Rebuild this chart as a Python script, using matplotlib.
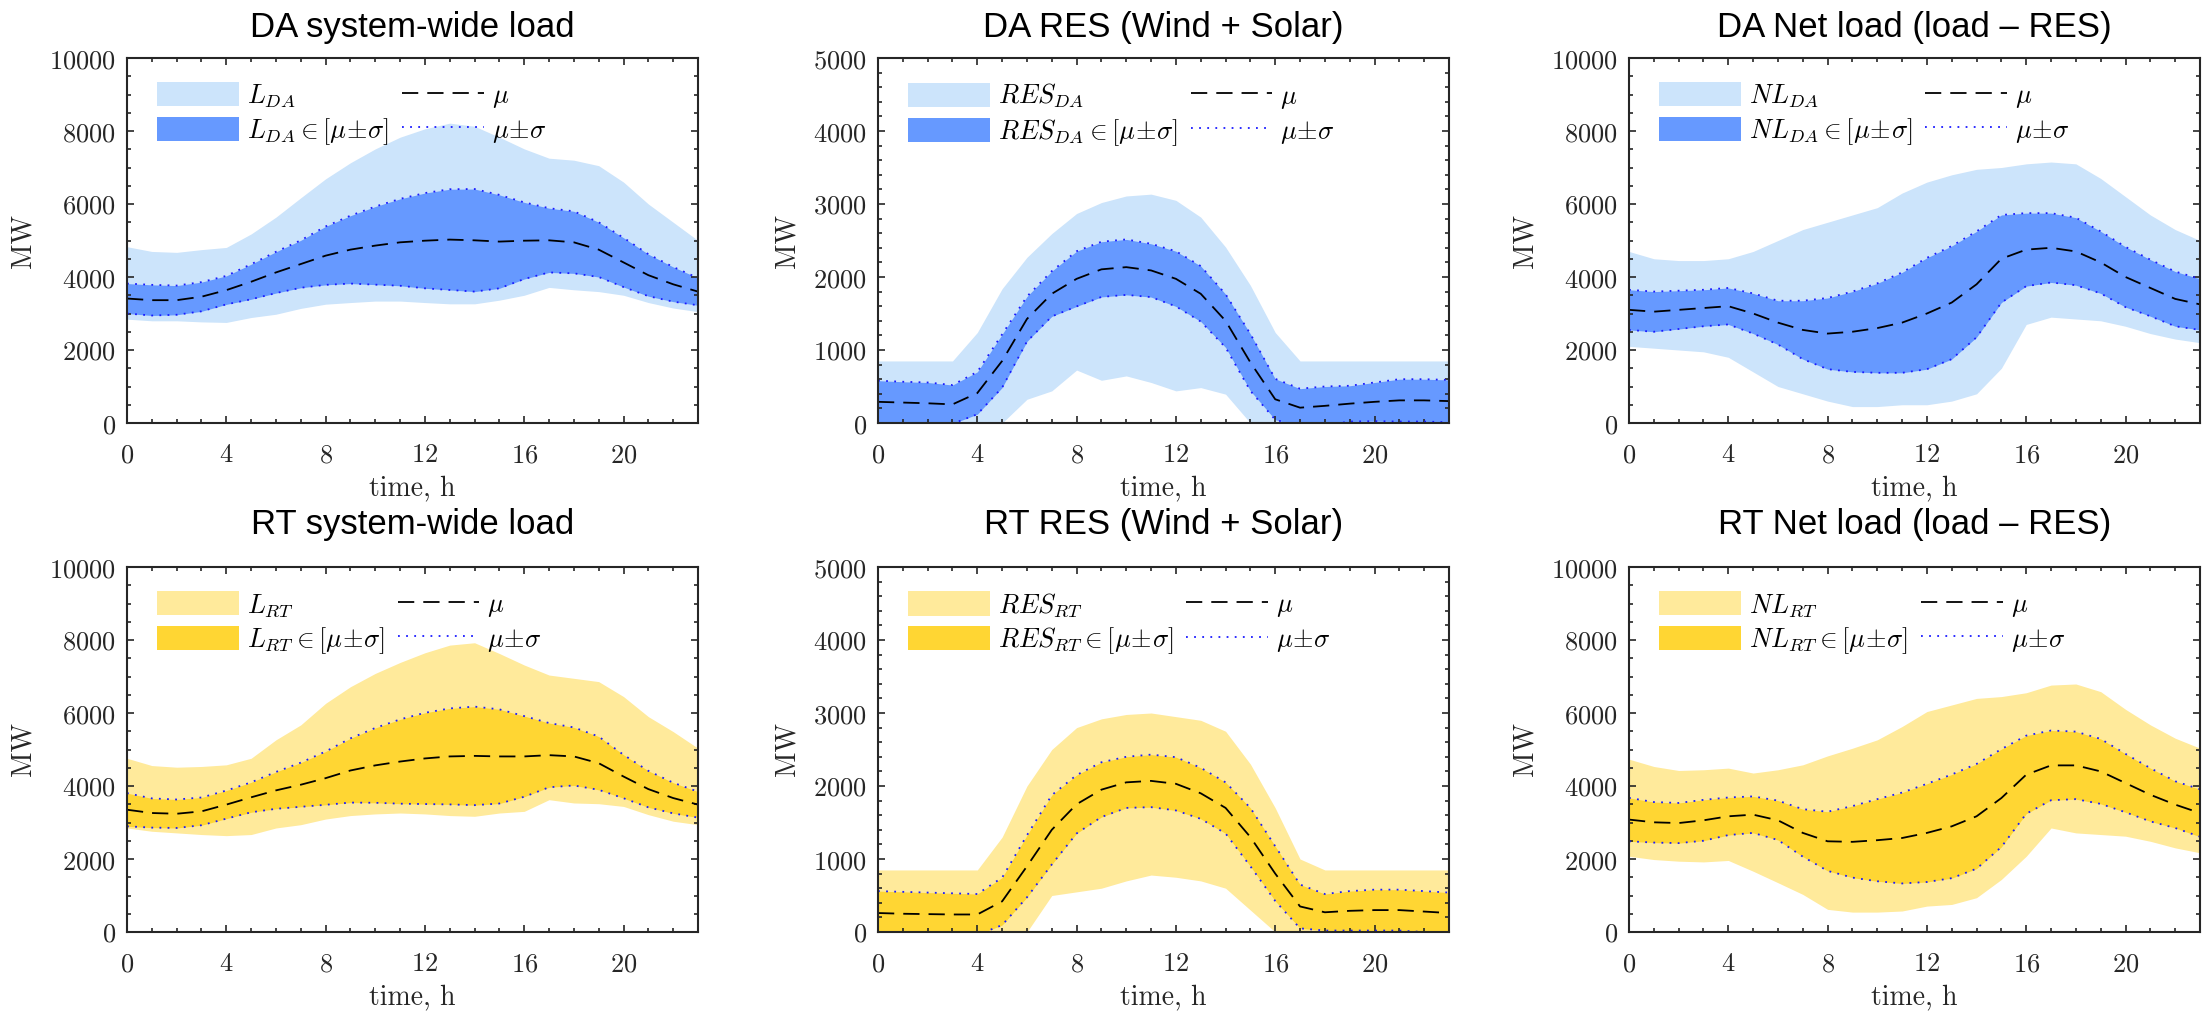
import numpy as np
import matplotlib
matplotlib.use("Agg")
import matplotlib.pyplot as plt
from matplotlib.ticker import MultipleLocator, FuncFormatter


plt.rcParams["mathtext.fontset"] = "cm"
plt.rcParams["axes.unicode_minus"] = False


hours = np.arange(24)

# day-ahead: system-wide load
da_load_max = [4830, 4700, 4675, 4750, 4810, 5180, 5640, 6170, 6690, 7130, 7510, 7830,
               8060, 8215, 8130, 7830, 7510, 7255, 7200, 7050, 6600, 6000, 5500, 5000]
da_load_min = [2845, 2800, 2800, 2770, 2755, 2890, 2980, 3140, 3255, 3300, 3340, 3340,
               3300, 3265, 3265, 3365, 3500, 3715, 3650, 3600, 3500, 3300, 3150, 3050]
da_load_mu = [3410, 3365, 3365, 3460, 3640, 3870, 4125, 4355, 4585, 4750, 4860, 4950,
              4995, 5025, 5005, 4970, 4995, 5005, 4950, 4750, 4400, 4050, 3800, 3600]
da_load_sd = [410, 420, 400, 400, 390, 480, 565, 650, 800, 930, 1070, 1190,
              1305, 1380, 1405, 1280, 1050, 880, 850, 750, 675, 575, 475, 375]

# day-ahead: wind + solar
da_res_max = [850, 850, 850, 850, 1240, 1840, 2270, 2595, 2870, 3020, 3110, 3135,
              3050, 2820, 2410, 1885, 1240, 850, 850, 850, 850, 850, 850, 850]
da_res_min = [0, 0, 0, 0, 0, 0, 325, 440, 725, 585, 645, 555,
              440, 485, 395, 0, 0, 0, 0, 0, 0, 0, 0, 0]
da_res_mu = [290, 280, 270, 255, 410, 850, 1425, 1770, 1975, 2105, 2135, 2090,
             1975, 1770, 1400, 830, 325, 210, 235, 265, 290, 310, 310, 300]
da_res_sd = [290, 285, 285, 265, 290, 365, 308, 310, 378, 378, 380, 365,
             378, 380, 365, 390, 280, 260, 265, 245, 265, 290, 290, 290]

# day-ahead: net load
da_nl_max = [4700, 4500, 4450, 4450, 4500, 4700, 5000, 5300, 5500, 5700, 5900, 6300,
             6600, 6800, 6950, 7000, 7100, 7150, 7100, 6700, 6200, 5700, 5300, 5000]
da_nl_min = [2100, 2050, 2000, 1950, 1800, 1400, 1000, 800, 600, 450, 450, 500,
             500, 600, 800, 1500, 2700, 2900, 2850, 2800, 2650, 2450, 2300, 2200]
da_nl_mu = [3100, 3050, 3100, 3150, 3200, 3000, 2750, 2550, 2450, 2500, 2600, 2750,
            3000, 3300, 3800, 4500, 4750, 4800, 4700, 4400, 4000, 3700, 3400, 3250]
da_nl_sd = [550, 550, 525, 500, 500, 550, 600, 800, 975, 1100, 1225, 1375,
            1525, 1550, 1450, 1200, 1000, 950, 925, 850, 825, 775, 750, 700]

# real-time: system-wide load
rt_load_max = [4760, 4560, 4515, 4535, 4580, 4760, 5265, 5675, 6265, 6720, 7085, 7385,
               7650, 7860, 7925, 7630, 7315, 7040, 6950, 6860, 6450, 5900, 5490, 5035]
rt_load_min = [2850, 2760, 2715, 2670, 2640, 2670, 2850, 2940, 3095, 3190, 3235, 3260,
               3235, 3190, 3170, 3260, 3305, 3625, 3535, 3515, 3440, 3215, 3035, 2940]
rt_load_mu = [3350, 3260, 3240, 3305, 3490, 3690, 3880, 4035, 4215, 4425, 4565, 4670,
              4755, 4810, 4825, 4810, 4810, 4845, 4810, 4625, 4260, 3915, 3670, 3490]
rt_load_sd = [455, 400, 390, 380, 385, 410, 505, 605, 730, 880, 1025, 1155,
              1250, 1315, 1350, 1290, 1105, 880, 795, 730, 595, 500, 420, 355]

# real-time: wind + solar
rt_res_max = [850, 850, 850, 850, 850, 1300, 2000, 2500, 2800, 2920, 2980, 3000,
              2950, 2900, 2750, 2300, 1700, 1000, 850, 850, 850, 850, 850, 850]
rt_res_min = [0, 0, 0, 0, 0, 0, 0, 500, 550, 600, 700, 780,
              750, 700, 600, 300, 0, 0, 0, 0, 0, 0, 0, 0]
rt_res_mu = [260, 250, 245, 240, 240, 420, 900, 1400, 1750, 1950, 2050, 2070,
             2030, 1900, 1700, 1300, 800, 350, 270, 290, 300, 300, 280, 260]
rt_res_sd = [300, 300, 295, 290, 280, 325, 425, 475, 400, 375, 350, 360,
             365, 350, 350, 400, 375, 300, 250, 270, 280, 280, 280, 280]

# real-time: net load
rt_nl_max = [4735, 4535, 4425, 4445, 4490, 4355, 4445, 4580, 4825, 5035, 5265, 5630,
             6040, 6220, 6400, 6450, 6555, 6765, 6795, 6585, 6100, 5675, 5310, 5035]
rt_nl_min = [2075, 1985, 1940, 1920, 1960, 1665, 1350, 1030, 620, 545, 545, 575,
             710, 755, 940, 1440, 2075, 2850, 2715, 2670, 2625, 2485, 2305, 2170]
rt_nl_mu = [3080, 3005, 2985, 3060, 3170, 3215, 3060, 2715, 2485, 2470, 2515, 2575,
            2715, 2895, 3170, 3670, 4310, 4565, 4565, 4400, 4080, 3760, 3490, 3260]
rt_nl_sd = [595, 555, 550, 560, 515, 500, 540, 650, 810, 980, 1125, 1245,
            1345, 1420, 1435, 1340, 1070, 955, 925, 890, 800, 730, 640, 650]


DA_COLORS = ("#cce4fb", "#6699ff")
RT_COLORS = ("#ffea9b", "#ffd633")

panels = [
    # title, symbol, market, ymax, colors, min, max, mu, sd
    ("DA system-wide load", "L", "DA", 10000, DA_COLORS,
     da_load_min, da_load_max, da_load_mu, da_load_sd),
    ("DA RES (Wind + Solar)", "RES", "DA", 5000, DA_COLORS,
     da_res_min, da_res_max, da_res_mu, da_res_sd),
    ("DA Net load (load \u2013 RES)", "NL", "DA", 10000, DA_COLORS,
     da_nl_min, da_nl_max, da_nl_mu, da_nl_sd),
    ("RT system-wide load", "L", "RT", 10000, RT_COLORS,
     rt_load_min, rt_load_max, rt_load_mu, rt_load_sd),
    ("RT RES (Wind + Solar)", "RES", "RT", 5000, RT_COLORS,
     rt_res_min, rt_res_max, rt_res_mu, rt_res_sd),
    ("RT Net load (load \u2013 RES)", "NL", "RT", 10000, RT_COLORS,
     rt_nl_min, rt_nl_max, rt_nl_mu, rt_nl_sd),
]


W, H = 2202, 1011
fig = plt.figure(figsize=(W / 100, H / 100), dpi=100)

lefts = [127, 878, 1629]
tops = [58, 567]
ax_w, ax_h = 571, 365
title_pad = [15, 24]

TEXT_DARK = "#262626"

# tick labels in Computer Modern via mathtext
cm_fmt = FuncFormatter(lambda v, p: rf"$\mathrm{{{v:.0f}}}$")

for i, (title, sym, mkt, ymax, (c_light, c_dark), lo, hi, mu, sd) in enumerate(panels):
    row, col = divmod(i, 3)
    ax = fig.add_axes([lefts[col] / W, 1 - (tops[row] + ax_h) / H, ax_w / W, ax_h / H])

    mu = np.array(mu, dtype=float)
    sd = np.array(sd, dtype=float)

    ax.fill_between(hours, lo, hi, color=c_light, lw=0,
                    label=rf"${sym}_{{{mkt}}}$")
    ax.fill_between(hours, mu - sd, mu + sd, color=c_dark, lw=0,
                    label=rf"${sym}_{{{mkt}}} \in [\mu\!\pm\!\sigma]$")
    ax.plot(hours, mu, color="black", lw=1.3, ls=(0, (9, 5)), label=r"$\mu$")
    ax.plot(hours, mu + sd, color="#1a1aff", lw=1.3, ls=(0, (1, 3.5)),
            label=r"$\mu\!\pm\!\sigma$")
    ax.plot(hours, mu - sd, color="#1a1aff", lw=1.3, ls=(0, (1, 3.5)))

    ax.set_xlim(0, 23)
    ax.set_ylim(0, ymax)
    ax.xaxis.set_major_locator(MultipleLocator(4))
    ax.xaxis.set_minor_locator(MultipleLocator(1))
    if ymax == 10000:
        ax.yaxis.set_major_locator(MultipleLocator(2000))
        ax.yaxis.set_minor_locator(MultipleLocator(500))
    else:
        ax.yaxis.set_major_locator(MultipleLocator(1000))
        ax.yaxis.set_minor_locator(MultipleLocator(200))
    ax.xaxis.set_major_formatter(cm_fmt)
    ax.yaxis.set_major_formatter(cm_fmt)

    ax.tick_params(which="both", direction="in", top=True, right=True,
                   color=TEXT_DARK, width=1.2, labelsize=19, labelcolor=TEXT_DARK)
    ax.tick_params(which="major", length=5)
    ax.tick_params(which="minor", length=3)
    ax.tick_params(axis="x", which="major", pad=14)
    ax.tick_params(axis="y", which="major", pad=8)
    for sp in ax.spines.values():
        sp.set_linewidth(1.5)
        sp.set_color(TEXT_DARK)

    ax.set_xlabel("time, h", family="cmr10", fontsize=20, color=TEXT_DARK, labelpad=5)
    ax.set_ylabel("MW", family="cmr10", fontsize=20, color=TEXT_DARK, labelpad=9)
    ax.set_title(title, family="Liberation Sans", fontsize=25, y=1.0,
                 pad=title_pad[row])

    ax.legend(loc="upper left", bbox_to_anchor=(30 / ax_w, 1 - 24 / ax_h),
              ncol=2, frameon=False, fontsize=19, borderpad=0, borderaxespad=0,
              handlelength=3.1, handleheight=1.05, handletextpad=0.3,
              columnspacing=0.5, labelspacing=0.25)

fig.savefig("out.png", dpi=100)
